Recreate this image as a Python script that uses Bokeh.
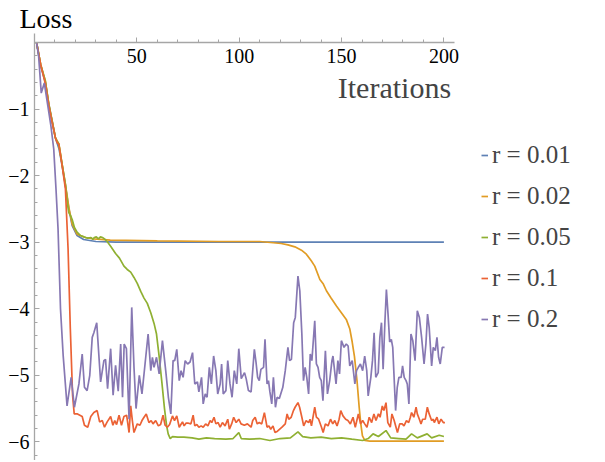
from bokeh.plotting import figure
from bokeh.models import FixedTicker, Legend, LegendItem, Label, Range1d, Title
from bokeh.embed import file_html
from bokeh.resources import INLINE

# ---------------- data ----------------
x_ticks = [50, 100, 150, 200]
x_minor = [10, 20, 30, 40, 60, 70, 80, 90, 110, 120, 130, 140, 160, 170, 180, 190, 200]
y_ticks = [-1, -2, -3, -4, -5, -6]
y_tick_labels = ["\u22121", "\u22122", "\u22123", "\u22124", "\u22125", "\u22126"]
y_minor = [round(-0.2 * i, 1) for i in range(1, 32)]
series_labels = ["r = 0.01", "r = 0.02", "r = 0.05", "r = 0.1", "r = 0.2"]
colors = ["#5E81B5", "#E19C24", "#8FB032", "#EB6235", "#8778B3"]

blue_x = [1, 3, 5.3, 7, 8.6, 10.2, 12, 13.5, 15.1, 16.8, 18.4, 20.8, 24, 30, 40, 60, 90, 120, 150, 180, 200]
blue_y = [0, -0.35, -0.6, -0.93, -1.18, -1.43, -1.6, -1.85, -2.15, -2.5, -2.75, -2.9, -2.96, -2.99, -3.0, -3.0, -3.0, -3.0, -3.0, -3.0, -3.0]

orange_x = [1, 3, 5.3, 7, 8.6, 10.2, 11, 11.9, 13.5, 15.1, 16.8, 18.4, 20.8, 24.9, 29, 37, 60, 90, 110, 120.5,
            123.8, 127.2, 130.4, 132.8, 135.2, 136.9, 139.4, 141.1, 142.6, 144.7, 147.5, 149.9, 152.3, 154,
            155.2, 156.3, 157.6, 158.6, 159.4, 160.2, 161.4, 163.8, 200]
orange_y = [0, -0.33, -0.58, -0.93, -1.18, -1.43, -1.48, -1.52, -1.83, -2.13, -2.48, -2.73, -2.88, -2.93, -2.95,
            -2.97, -2.98, -2.99, -2.99, -3.02, -3.04, -3.07, -3.12, -3.18, -3.28, -3.36, -3.56, -3.63, -3.73,
            -3.83, -3.96, -4.06, -4.16, -4.3, -4.5, -4.72, -5.1, -5.48, -5.73, -5.91, -5.98, -5.99, -5.99]

green_x = [1, 3, 5.3, 7, 8.6, 10.2, 11.9, 13.5, 15.1, 16.2, 16.8, 17.6, 18.4, 19.5, 20.8, 22.5, 24.1, 26, 27.6,
           28.5, 29.2, 30.2, 31.2, 32.2, 33.2, 34.2, 35.5, 37.2, 39.6, 41.5, 43.7, 45.3, 47, 48.6, 50.2, 51.9,
           53.5, 55.1, 56.8, 58.4, 59.6, 60.9, 62.2, 63.5, 64.5, 65.3, 66.3, 67.4, 70, 73, 77, 80.3, 84, 88,
           93.5, 97, 99.8, 101, 105, 110, 115, 120, 125, 128.7, 131, 135, 140, 145, 150, 155, 160.3, 163,
           165.4, 168, 171.7, 174, 178, 181.5, 184.2, 187, 191.8, 194, 197.7, 200]
green_y = [0, -0.33, -0.58, -0.93, -1.18, -1.43, -1.53, -1.83, -2.13, -2.45, -2.56, -2.6, -2.66, -2.78, -2.85,
           -2.9, -2.92, -2.94, -2.93, -2.96, -2.93, -2.92, -2.95, -2.92, -2.93, -2.95, -2.99, -3.06, -3.17,
           -3.24, -3.36, -3.41, -3.45, -3.53, -3.62, -3.74, -3.84, -3.92, -4.06, -4.22, -4.38, -4.72, -5.1,
           -5.5, -5.75, -5.88, -5.95, -5.92, -5.93, -5.93, -5.94, -5.96, -5.94, -5.95, -5.96, -5.95, -5.86,
           -5.95, -5.96, -5.95, -5.98, -5.95, -5.94, -5.85, -5.92, -5.94, -5.93, -5.95, -5.94, -5.96, -5.98,
           -5.95, -5.88, -5.92, -5.83, -5.94, -5.95, -5.96, -5.88, -5.94, -5.88, -5.94, -5.9, -5.92]

red_x = [1, 3, 4.5, 5.3, 7, 8.6, 10.2, 11, 11.9, 13.5, 15.1, 16.4, 17.5, 18.6, 19.4, 21, 23.3, 24.4, 26, 27.5,
         29, 30.6, 31.8, 33.1, 34.2, 35.5, 37.2, 38.3, 39.2, 40.1, 41.3, 42.5, 43.7, 45, 46.2, 47, 47.8, 48.6,
         50.2, 51.5, 52.5, 53.5, 54.6, 55.9, 57, 57.9, 59.2, 60.5, 61.6, 62.8, 63.8, 64.9, 66, 67.4, 68.4,
         69.5, 70.7, 71.5, 72.3, 73.1, 74, 75.2, 76.4, 77.5, 78.3, 79.3, 80.3, 81.4, 82.4, 83.6, 84.7, 85.8,
         86.6, 87.7, 88.6, 89.7, 90.7, 91.8, 93.1, 94.4, 95.2, 96.3, 97.3, 98.5, 99.8, 100.9, 102.5, 104,
         105.8, 106.6, 107.8, 108.8, 109.8, 111, 112.3, 113.6, 114.5, 115.4, 116.5, 117.5, 118.7, 120.9,
         122.5, 123.4, 124.2, 125.4, 126.5, 127.3, 128.7, 129.5, 130.6, 131.5, 132.7, 133.9, 134.6, 135.3,
         136.9, 137.7, 138.8, 140.2, 141, 142.1, 143.4, 144.6, 145.7, 146.7, 147.8, 148.8, 149.6, 150.7, 152,
         153.1, 154.3, 155.6, 156.7, 158.2, 159.3, 160.3, 161.3, 162.4, 163.5, 164.7, 165.8, 166.8, 168,
         168.8, 169.9, 170.7, 171.7, 172.6, 173.8, 174.6, 175.7, 177.3, 178.4, 179.6, 180.5, 181.7, 182.8,
         183.6, 184.2, 185.3, 186.4, 187, 188, 188.8, 189.6, 190.9, 191.9, 192.8, 194, 194.8, 195.3, 196.6,
         197.5, 198.6, 199.7, 200.5]
red_y = [0, -0.33, -0.52, -0.62, -0.95, -1.2, -1.43, -1.5, -1.53, -1.85, -2.2, -3.1, -4.3, -5.3, -5.58, -5.58,
         -5.62, -5.75, -5.78, -5.62, -5.56, -5.53, -5.7, -5.68, -5.78, -5.7, -5.62, -5.75, -5.68, -5.74, -5.6,
         -5.75, -5.62, -5.6, -5.86, -5.46, -5.68, -5.86, -5.73, -5.75, -5.68, -5.63, -5.58, -5.71, -5.68,
         -5.73, -5.68, -5.76, -5.74, -5.6, -5.75, -5.78, -5.74, -5.61, -5.68, -5.61, -5.78, -5.74, -5.7,
         -5.76, -5.72, -5.72, -5.73, -5.6, -5.76, -5.74, -5.78, -5.76, -5.78, -5.73, -5.76, -5.68, -5.71,
         -5.63, -5.73, -5.71, -5.78, -5.71, -5.76, -5.66, -5.81, -5.73, -5.63, -5.71, -5.66, -5.73, -5.75,
         -5.73, -5.78, -5.68, -5.63, -5.73, -5.71, -5.73, -5.56, -5.78, -5.76, -5.81, -5.76, -5.86, -5.84,
         -5.78, -5.73, -5.58, -5.66, -5.63, -5.53, -5.48, -5.41, -5.48, -5.63, -5.76, -5.68, -5.71, -5.66,
         -5.76, -5.48, -5.63, -5.66, -5.78, -5.86, -5.73, -5.76, -5.66, -5.73, -5.68, -5.76, -5.66, -5.53,
         -5.61, -5.66, -5.68, -5.73, -5.63, -5.78, -5.58, -5.73, -5.68, -5.73, -5.78, -5.63, -5.71, -5.58,
         -5.68, -5.58, -5.63, -5.46, -5.53, -5.41, -5.71, -5.78, -5.58, -5.68, -5.86, -5.73, -5.73, -5.76,
         -5.68, -5.71, -5.63, -5.56, -5.63, -5.48, -5.58, -5.66, -5.73, -5.66, -5.66, -5.48, -5.58, -5.68,
         -5.66, -5.71, -5.63, -5.73, -5.66, -5.71, -5.71]

purple_x = [1, 2, 3.3, 4.8, 6.5, 8, 9.4, 10.5, 11.5, 12.7, 14, 15.9, 17.9, 19.5, 21.7, 23.3, 24.4, 25.7, 27,
            28.2, 29, 30.4, 32.3, 33.9, 34.7, 35.7, 37.2, 38.4, 39.6, 40.9, 42.1, 43, 43.8, 44.9, 46.2, 47.5,
            48.6, 49.6, 51.2, 52.5, 54, 55.5, 56.8, 57.6, 58.4, 59.6, 60.9, 62.5, 64.1, 65.4, 66.6, 67.7,
            68.5, 69.5, 70.7, 71.6, 72.6, 73.6, 74.8, 76, 77.2, 78.3, 79.6, 80.3, 81.6, 82.4, 83.4, 84.3,
            85.4, 86.4, 87.5, 88.6, 89.5, 90.7, 91.4, 92.2, 93.5, 94.4, 95.5, 96.5, 97.6, 98.8, 99.8, 101,
            102.6, 103.4, 104.5, 105.8, 107.4, 108.2, 109, 109.8, 110.6, 111.9, 112.6, 113.6, 114.3, 115,
            115.9, 116.7, 117.7, 118.5, 119.6, 121.3, 122.5, 123.8, 124.6, 125.5, 126.6, 127.4, 128.7,
            129.6, 130.6, 131.4, 132.2, 133, 133.9, 134.7, 135.5, 136.9, 137.7, 138.5, 139.3, 140.1, 140.9,
            142.1, 143.1, 144.2, 145.3, 145.8, 147.3, 148.2, 149, 149.9, 151.2, 152.3, 153.2, 154, 155.2,
            156.5, 157.3, 158.2, 159.2, 160.3, 161.3, 162.3, 163, 164.3, 165.1, 165.9, 166.7, 167.9, 168.7,
            169.5, 170.3, 171.2, 171.9, 172.8, 173.5, 174.3, 175, 176.4, 177.2, 178, 179.1, 179.8, 180.6,
            181.5, 182.1, 182.9, 183.9, 184.8, 185.9, 187, 188, 189.1, 190.3, 191.2, 192, 192.8, 194, 194.8,
            195.8, 196.6, 197.4, 198.2, 199.2, 200.3]
purple_y = [0, -0.2, -0.76, -0.61, -0.95, -1.25, -1.6, -2.2, -2.8, -4.0, -4.7, -5.46, -5.03, -5.48, -5.13,
            -4.68, -5.18, -5.23, -5.0, -4.43, -4.36, -4.21, -5.1, -4.78, -4.76, -5.2, -4.6, -5.3, -4.85,
            -5.24, -4.53, -5.33, -4.53, -4.6, -5.66, -3.98, -4.88, -5.5, -5.0, -5.28, -4.83, -4.38, -4.93,
            -4.73, -4.88, -4.73, -4.98, -4.48, -4.93, -5.33, -5.58, -4.78, -4.78, -4.61, -5.08, -4.93, -5.03,
            -4.78, -4.83, -4.8, -4.66, -5.13, -5.1, -5.25, -5.03, -5.43, -5.28, -5.33, -4.88, -5.13, -4.71,
            -4.93, -5.28, -5.13, -4.83, -5.28, -5.23, -4.78, -5.13, -5.33, -4.93, -5.13, -4.6, -5.05, -4.96,
            -5.05, -5.23, -5.25, -4.61, -4.8, -5.03, -5.08, -4.91, -4.88, -4.46, -5.13, -5.08, -5.25, -5.43,
            -5.03, -5.48, -5.33, -5.35, -5.18, -4.93, -4.58, -4.78, -4.76, -4.21, -4.13, -3.51, -3.73, -4.38,
            -5.08, -4.88, -5.03, -5.28, -4.68, -4.78, -4.18, -4.83, -4.88, -5.03, -5.08, -5.38, -4.63, -5.28,
            -5.08, -4.78, -4.71, -5.13, -4.78, -4.98, -4.48, -4.58, -4.53, -4.56, -4.86, -4.78, -5.13, -4.93,
            -4.88, -4.83, -4.93, -4.71, -4.93, -5.31, -5.03, -4.78, -4.36, -5.03, -4.96, -4.43, -4.21, -4.91,
            -4.18, -3.71, -4.13, -4.5, -4.46, -4.58, -5.53, -5.18, -5.03, -5.03, -4.86, -5.03, -5.08, -5.13,
            -5.43, -4.38, -4.48, -4.78, -4.03, -4.13, -4.43, -4.83, -4.53, -4.08, -4.28, -4.86, -4.58, -4.63,
            -4.43, -4.73, -4.83, -4.58, -4.58]

series_x = [blue_x, orange_x, green_x, red_x, purple_x]
series_y = [blue_y, orange_y, green_y, red_y, purple_y]

# ---------------- figure ----------------
serif = "Liberation Serif"
axis_gray = "#a6a6a6"

p = figure(width=600, height=460, x_range=Range1d(0, 276.0), y_range=Range1d(-6.28, 0.135),
           output_backend="svg", toolbar_location=None,
           min_border_left=34, min_border_top=25, min_border_bottom=0, min_border_right=1)
p.outline_line_color = None
p.grid.visible = False
p.background_fill_color = "white"
p.border_fill_color = "white"

p.title = Title(text="Loss", align="left", offset=-15, standoff=0,
                text_font=serif, text_font_size="28px", text_font_style="normal",
                text_color="black")

for ax in (p.xaxis[0], p.yaxis[0]):
    ax.axis_line_color = axis_gray
    ax.axis_line_width = 1.3
    ax.major_tick_line_color = axis_gray
    ax.minor_tick_line_color = axis_gray
    ax.major_tick_in = 5
    ax.major_tick_out = 0
    ax.minor_tick_in = 3
    ax.minor_tick_out = 0
    ax.major_label_text_font = serif
    ax.major_label_text_font_size = "20px"
    ax.major_label_text_color = "black"

p.xaxis.fixed_location = 0
p.xaxis.bounds = (0, 205)
p.xaxis.ticker = FixedTicker(ticks=x_ticks, minor_ticks=x_minor)
p.xaxis.major_label_standoff = 7
p.yaxis.ticker = FixedTicker(ticks=y_ticks, minor_ticks=y_minor)
p.yaxis.major_label_overrides = {t: s for t, s in zip(y_ticks, y_tick_labels)}
p.yaxis.major_label_standoff = 5

items = []
for xs, ys, c, lab in zip(series_x, series_y, colors, series_labels):
    r = p.line(xs, ys, line_color=c, line_width=1.7)
    items.append(LegendItem(label=lab, renderers=[r]))

legend = Legend(items=items, location=(447, 127), border_line_color=None,
                background_fill_alpha=0, label_text_font=serif, label_text_font_size="25px",
                glyph_width=7, glyph_height=28, label_height=28, spacing=13, padding=0,
                margin=0, label_standoff=4)
p.add_layout(legend, "center")

p.add_layout(Label(x=203.5, y=-0.68, text="Iterations", text_font=serif,
                   text_font_size="30px", text_baseline="middle", text_align="right"))

open("out.html", "w").write(file_html(p, INLINE))
